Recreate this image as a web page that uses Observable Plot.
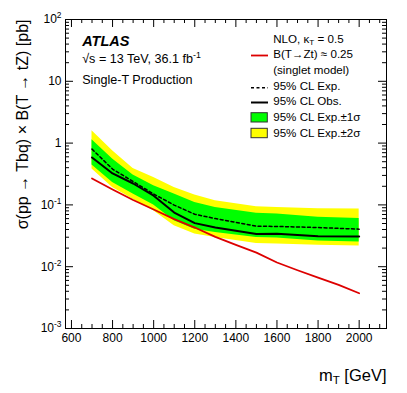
<!DOCTYPE html>
<html><head><meta charset="utf-8">
<script src="https://cdn.jsdelivr.net/npm/d3@7"></script>
<script src="https://cdn.jsdelivr.net/npm/@observablehq/plot@0.6"></script>
<style>
html,body{margin:0;padding:0;background:#fff;}
#chart svg{display:block;}
</style>
</head><body><div id="chart"></div>
<script>
// ---- data ----
const mass    = [700, 800, 900, 1000, 1100, 1200, 1300, 1500, 1600, 1800, 2000];
const obs     = [0.586, 0.323, 0.222, 0.141, 0.0753, 0.0507, 0.0430, 0.0337, 0.0340, 0.0312, 0.0308];
const expMed  = [0.80, 0.380, 0.239, 0.150, 0.0993, 0.0705, 0.0602, 0.0453, 0.0448, 0.0430, 0.0405];
const exp1Hi  = [1.135, 0.552, 0.304, 0.204, 0.150, 0.109, 0.0908, 0.0736, 0.071, 0.063, 0.0602];
const exp1Lo  = [0.442, 0.231, 0.150, 0.0993, 0.0552, 0.0405, 0.0357, 0.0296, 0.029, 0.026, 0.0252];
const exp2Hi  = [1.59, 0.753, 0.389, 0.278, 0.191, 0.144, 0.117, 0.0931, 0.091, 0.087, 0.0855];
const exp2Lo  = [0.38, 0.191, 0.124, 0.0802, 0.0458, 0.0337, 0.0296, 0.0237, 0.0233, 0.0222, 0.0217];
const massTheory = [700, 800, 900, 1000, 1100, 1200, 1300, 1400, 1500, 1600, 1700, 1800, 1900, 2000];
const theory     = [0.268, 0.178, 0.120, 0.0842, 0.0589, 0.0430, 0.0304, 0.0226, 0.0169, 0.0117, 0.00877, 0.00666, 0.00507, 0.00372];

const xDomain = [571, 2133];
const yDomain = [1e-3, 1e2];
const xMajorTicks = [600, 800, 1000, 1200, 1400, 1600, 1800, 2000];
const xMinorTicks = [650, 700, 750, 850, 900, 950, 1050, 1100, 1150, 1250, 1300, 1350, 1450, 1500, 1550, 1650, 1700, 1750, 1850, 1900, 1950, 2050, 2100];
const yMajorTicks = [1e-3, 1e-2, 1e-1, 1, 10, 100];
const yTickLabels = ["10^{-3}", "10^{-2}", "10^{-1}", "1", "10", "10^{2}"];
const yMinorMult = [2, 3, 4, 5, 6, 7, 8, 9];

const legendLabels = ["NLO, κ_{T} = 0.5", "B(T→Zt) ≈ 0.25", "(singlet model)", "95% CL Exp.", "95% CL Obs.", "95% CL Exp.±1σ", "95% CL Exp.±2σ"];
const atlasLabel = "ATLAS";
const energyLabel = "√s = 13 TeV, 36.1 fb^{-1}";
const prodLabel = "Single-T Production";
const yTitle = "σ(pp → Tbq) × B(T → tZ) [pb]";
const xTitle = "m_{T} [GeV]";

// ---- layout ----
const W = 407, H = 393;
const mL = 65, mR = 21, mT = 19, mB = 65;
const pxL = mL, pxR = W - mR, pxT = mT, pxB = H - mB;
const xInv = px => xDomain[0] + (px - pxL) / (pxR - pxL) * (xDomain[1] - xDomain[0]);
const lg0 = Math.log10(yDomain[0]), lg1 = Math.log10(yDomain[1]);
const yInv = py => Math.pow(10, lg1 - (py - pxT) / (pxB - pxT) * (lg1 - lg0));
const gevPerPx = (xDomain[1] - xDomain[0]) / (pxR - pxL);
const decPerPx = (lg1 - lg0) / (pxB - pxT);
const tx = len => len * gevPerPx;
const ty = len => Math.pow(10, len * decPerPx);

const rows = mass.map((m, i) => ({m, obs: obs[i], exp: expMed[i], g1: exp1Lo[i], g2: exp1Hi[i], y1: exp2Lo[i], y2: exp2Hi[i]}));
const trows = massTheory.map((m, i) => ({m, v: theory[i]}));
const yMinorTicks = yMajorTicks.slice(0, -1).flatMap(d => yMinorMult.map(k => k * d));

const FONT = "'Liberation Sans', Arial, Helvetica, sans-serif";
const RED = "#dd0000";
const legX = 272.7;
const legBase = [42.3, 57.3, 73.3, 89.3, 104.3, 120, 136];

const marks = [
  Plot.areaY(rows, {x: "m", y1: "y1", y2: "y2", fill: "#ffff00"}),
  Plot.areaY(rows, {x: "m", y1: "g1", y2: "g2", fill: "#00ff00"}),
  Plot.line(rows, {x: "m", y: "exp", stroke: "black", strokeWidth: 1.5, strokeDasharray: "3,2.5"}),
  Plot.line(rows, {x: "m", y: "obs", stroke: "black", strokeWidth: 2}),
  Plot.line(trows, {x: "m", y: "v", stroke: RED, strokeWidth: 1.8}),
  // inward ticks
  Plot.ruleX(xMajorTicks, {x: d => d, y1: yDomain[0], y2: yDomain[0] * ty(8), stroke: "black"}),
  Plot.ruleX(xMinorTicks, {x: d => d, y1: yDomain[0], y2: yDomain[0] * ty(4), stroke: "black"}),
  Plot.ruleX(xMajorTicks, {x: d => d, y1: yDomain[1], y2: yDomain[1] / ty(8), stroke: "black"}),
  Plot.ruleX(xMinorTicks, {x: d => d, y1: yDomain[1], y2: yDomain[1] / ty(4), stroke: "black"}),
  Plot.ruleY(yMajorTicks, {y: d => d, x1: xDomain[0], x2: xDomain[0] + tx(8), stroke: "black"}),
  Plot.ruleY(yMinorTicks, {y: d => d, x1: xDomain[0], x2: xDomain[0] + tx(4), stroke: "black"}),
  Plot.ruleY(yMajorTicks, {y: d => d, x1: xDomain[1], x2: xDomain[1] - tx(8), stroke: "black"}),
  Plot.ruleY(yMinorTicks, {y: d => d, x1: xDomain[1], x2: xDomain[1] - tx(4), stroke: "black"}),
  Plot.frame({stroke: "black", strokeWidth: 1}),
  // tick labels
  Plot.text(xMajorTicks, {x: d => d, y: yDomain[0], dy: 13.5, text: d => String(d), lineAnchor: "bottom", fontSize: 12, fill: "black"}),
  Plot.text(yMajorTicks, {x: xDomain[0], y: d => d, dx: -4, text: (d, i) => yTickLabels[i], textAnchor: "end", lineAnchor: "middle", fontSize: 12, fill: "black"}),
  // axis titles
  Plot.text([yTitle], {frameAnchor: "top-left", dx: 27 - mL, dy: 0, rotate: -90, text: d => d, textAnchor: "end", lineAnchor: "bottom", fontSize: 16, fill: "black"}),
  Plot.text([xTitle], {frameAnchor: "bottom-right", dx: 0, dy: 52, text: d => d, textAnchor: "end", lineAnchor: "bottom", fontSize: 16.5, fill: "black"}),
  // ATLAS labels
  Plot.text([atlasLabel], {frameAnchor: "top-left", dx: 16.7, dy: 26.7, text: d => d, textAnchor: "start", lineAnchor: "bottom", fontSize: 14.5, fontWeight: "bold", fontStyle: "italic", fill: "black"}),
  Plot.text([energyLabel], {frameAnchor: "top-left", dx: 16.7, dy: 43.3, text: d => d, textAnchor: "start", lineAnchor: "bottom", fontSize: 12.6, fill: "black"}),
  Plot.text([prodLabel], {frameAnchor: "top-left", dx: 16.7, dy: 64.3, text: d => d, textAnchor: "start", lineAnchor: "bottom", fontSize: 12.6, fill: "black"}),
  // legend text
  ...legendLabels.map((lab, i) => Plot.text([lab], {frameAnchor: "top-left", dx: legX - mL, dy: legBase[i] - mT, text: d => d, textAnchor: "start", lineAnchor: "bottom", fontSize: 11.6, fill: "black"})),
  // legend swatches
  Plot.ruleY([yInv(55)], {y: d => d, x1: xInv(251), x2: xInv(268), stroke: RED, strokeWidth: 1.8}),
  Plot.ruleY([yInv(87.3)], {y: d => d, x1: xInv(251), x2: xInv(268), stroke: "black", strokeWidth: 1.5, strokeDasharray: "3,2.5"}),
  Plot.ruleY([yInv(102)], {y: d => d, x1: xInv(251), x2: xInv(268), stroke: "black", strokeWidth: 2}),
  Plot.rect([0], {x1: xInv(251), x2: xInv(267.3), y1: yInv(122), y2: yInv(112.7), fill: "#00ff00", stroke: "#333", strokeWidth: 1}),
  Plot.rect([0], {x1: xInv(251), x2: xInv(267.3), y1: yInv(137.7), y2: yInv(128.3), fill: "#ffff00", stroke: "#333", strokeWidth: 1})
];

const svg = Plot.plot({
  width: W, height: H,
  marginLeft: mL, marginRight: mR, marginTop: mT, marginBottom: mB,
  x: {type: "linear", domain: xDomain, axis: null},
  y: {type: "log", domain: yDomain, axis: null},
  style: {fontFamily: FONT, fontSize: "12px", background: "white", overflow: "visible", color: "black"},
  marks
});

// super/subscript formatting: ^{..} and _{..}
function richText(root) {
  root.querySelectorAll("text").forEach(t => {
    const s = t.textContent;
    if (!/[_^]\{/.test(s)) return;
    t.textContent = "";
    const re = /([_^])\{([^}]*)\}/g;
    let last = 0, m, shift = 0;
    const add = (str, kind) => {
      const ts = document.createElementNS("http://www.w3.org/2000/svg", "tspan");
      ts.textContent = str;
      const target = kind === "^" ? -0.42 : kind === "_" ? 0.22 : 0;
      const delta = target - shift;
      if (kind) {
        ts.setAttribute("font-size", "70%");
        if (delta) ts.setAttribute("dy", (delta / 0.7).toFixed(3) + "em");
      } else if (delta) ts.setAttribute("dy", delta.toFixed(3) + "em");
      shift = target;
      t.appendChild(ts);
    };
    while ((m = re.exec(s))) {
      if (m.index > last) add(s.slice(last, m.index), null);
      add(m[2], m[1]);
      last = re.lastIndex;
    }
    if (last < s.length) add(s.slice(last), null);
  });
}
richText(svg);
document.getElementById("chart").appendChild(svg);
</script>
</body></html>
